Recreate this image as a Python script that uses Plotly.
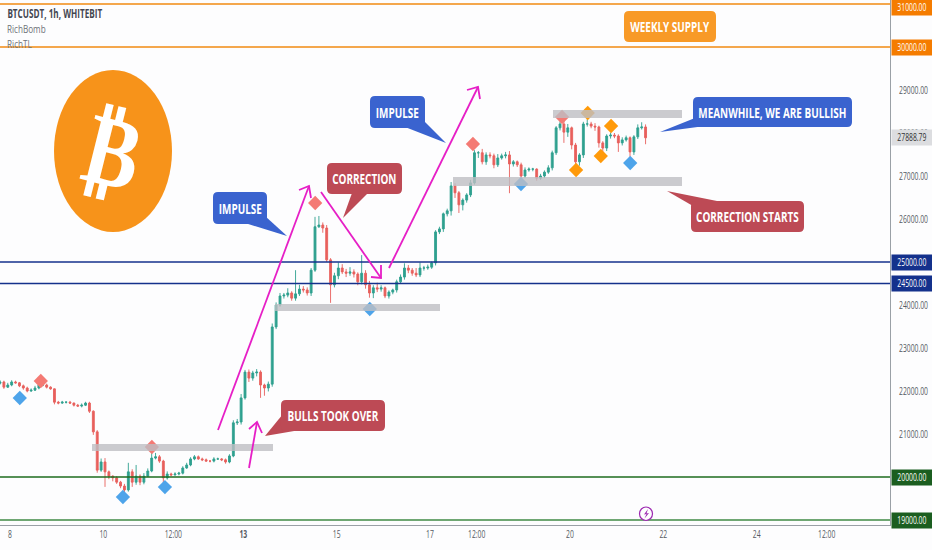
import plotly.graph_objects as go

# ---------- chart values ----------
START_DAY = 7.786
CANDLES_PER_DAY = 12
FIRST_OPEN = 22180
CLOSES = [
22210,22090,22140,22210,22190,22120,22070,22000,22020,22070,
22140,22140,22090,22050,21740,21720,21740,21740,21720,21670,
21650,21670,21720,21530,21050,20160,20350,20120,20020,19980,
19880,19790,19700,20120,19880,20020,19880,20020,20140,20440,
20470,20370,19980,20070,20050,20070,20090,20210,20280,20420,
20470,20420,20400,20370,20370,20420,20420,20400,20350,20490,
21260,21280,21840,22440,22300,22420,22440,22140,22070,22160,
23490,24000,24210,24230,24280,24160,24260,24370,24350,24280,
24810,25820,25860,25790,25050,24470,24680,24860,24770,24740,
24770,24720,24540,24740,24470,24280,24400,24370,24400,24210,
24300,24350,24540,24650,24860,24810,24740,24700,24860,24860,
24880,24980,25700,25770,26120,26190,26770,26610,26330,26440,
26560,26840,27540,27540,27330,27490,27470,27260,27420,27470,
27490,27280,27330,27260,27000,27140,27160,27160,26950,27000,
27090,27190,27540,28120,28210,28020,28120,27720,27330,27490,
28210,28210,28160,28140,27770,27650,27930,27950,27930,27770,
27840,27890,27560,27910,28120,28140,27888.79]
UPPER_WICKS = [
40,30,50,40,30,20,30,30,40,50,
110,40,30,20,10,30,30,20,30,10,
30,40,30,30,20,40,80,90,30,20,
40,30,50,210,60,260,40,70,60,190,
90,40,30,60,30,40,30,40,50,40,
40,30,30,30,20,40,30,20,30,40,
60,70,90,50,60,50,70,40,30,60,
80,60,70,50,110,40,550,100,70,60,
50,230,210,60,70,40,70,130,90,70,
110,60,40,420,70,90,60,120,60,30,
40,30,50,60,110,70,50,120,130,50,
60,30,40,50,30,50,90,60,40,40,
40,70,60,40,90,60,60,50,90,50,
70,90,40,30,50,60,40,30,20,50,
40,60,50,40,60,80,90,30,50,40,
50,110,50,70,30,40,40,60,50,40,
60,50,30,40,80,110,60]
LOWER_WICKS = [
30,40,20,30,20,30,40,30,20,20,
30,30,30,20,50,30,20,30,20,30,
20,30,20,40,70,60,40,350,70,80,
40,50,50,40,110,60,70,50,20,30,
30,40,120,40,30,20,30,30,20,30,
30,20,30,20,30,30,20,30,40,30,
30,50,60,40,90,60,80,300,180,80,
60,50,40,60,50,60,60,50,60,60,
70,40,30,110,50,420,60,80,50,90,
60,80,80,60,90,110,120,70,60,50,
60,50,60,40,60,70,60,50,50,60,
40,40,60,50,70,60,110,120,190,130,
60,50,40,120,60,70,60,80,50,40,
60,680,60,50,90,50,40,50,60,40,
50,40,60,50,60,250,110,100,140,90,
70,60,50,90,110,120,70,60,50,210,
60,40,110,70,50,40,150]

RED_DAYS = [8.66, 11.04, 14.54, 17.92, 19.83]
RED_PRICES = [22233, 20698, 26372, 27744, 28372]
BLUE_DAYS = [8.21, 10.42, 11.32, 15.71, 18.95, 21.29]
BLUE_PRICES = [21837, 19535, 19767, 23907, 26814, 27302]
ORANGE_DAYS = [20.13, 20.38, 20.66, 20.88]
ORANGE_PRICES = [27140, 28465, 27465, 28163]

TICK_DAYS = [8, 10, 11.5, 13, 15, 17, 18, 20, 22, 24, 25.5]
TICK_LABELS = ["8", "10", "12:00", "<b>13</b>", "15", "17", "12:00", "20", "22", "24", "12:00"]
PRICE_TICKS = [29000, 28000, 27000, 26000, 24000, 23000, 22000, 21000]
LEVELS = [31000, 30000, 25000, 24500, 20000, 19000]
LEVEL_COLORS = ["#f08a12", "#f08a12", "#14318c", "#14318c", "#1c6b1e", "#3f8a45"]
TAG_COLORS = ["#f57c00", "#f57c00", "#14318c", "#14318c", "#1b5e20", "#1b5e20"]
TAG_SHIFTS = [-3, 0, 0, 0, 0, 0]
LAST_PRICE = 27888.79

# ---------- frame ----------
W, H = 932, 550
PW, PH = 890, 525
DAY_RANGE = [7.786, 26.857]
PRICE_RANGE = [18884, 31093]
FONT = "Open Sans, sans-serif"


def fx(px):
    return px / PW


def fy(py):
    return 1 - py / PH


def poly(points, closed=True):
    s = "M " + " L ".join(f"{fx(a):.5f},{fy(b):.5f}" for a, b in points)
    return s + (" Z" if closed else "")


def round_rect(x0, y0, x1, y1, r=5):
    P = lambda a, b: f"{fx(a):.5f},{fy(b):.5f}"
    return (f"M {P(x0+r,y0)} L {P(x1-r,y0)} Q {P(x1,y0)} {P(x1,y0+r)} L {P(x1,y1-r)} "
            f"Q {P(x1,y1)} {P(x1-r,y1)} L {P(x0+r,y1)} Q {P(x0,y1)} {P(x0,y1-r)} "
            f"L {P(x0,y0+r)} Q {P(x0,y0)} {P(x0+r,y0)} Z")


shapes = []
annotations = []


def pshape(path, fill=None, line=None, width=0, layer="above"):
    shapes.append(dict(type="path", xref="paper", yref="paper", path=path, layer=layer,
                       fillcolor=fill or "rgba(0,0,0,0)",
                       line=dict(color=line or "rgba(0,0,0,0)", width=width)))


def label(px, py, text, size=14, color="white", xanchor="center", bold=True, shift=0):
    annotations.append(dict(xref="paper", yref="paper", x=fx(px), y=fy(py), text=f"<b>{text}</b>" if bold else text,
                            showarrow=False, xanchor=xanchor, yanchor="middle", xshift=shift,
                            font=dict(family=FONT, size=size, color=color)))


def callout(x0, y0, x1, y1, color, text, tail=None):
    if tail:
        pshape(poly(tail), fill=color)
    pshape(round_rect(x0, y0, x1, y1), fill=color)
    label((x0 + x1) / 2, (y0 + y1) / 2, text)


def arrow(p0, p1, w0, w1):
    pshape(poly([p0, p1], closed=False), line="#e61fc6", width=1.8)
    pshape(poly([w0, p1, w1], closed=False), line="#e61fc6", width=1.8)


# horizontal levels
for lvl, col in zip(LEVELS, LEVEL_COLORS):
    shapes.append(dict(type="line", xref="paper", yref="y", x0=0, x1=1, y0=lvl, y1=lvl,
                       line=dict(color=col, width=1.6), layer="above"))

# grey zones
for z in [(92, 444, 273, 451), (275, 304, 440, 311), (453, 177, 682, 186), (553, 110, 682, 118)]:
    pshape(poly([(z[0], z[1]), (z[2], z[1]), (z[2], z[3]), (z[0], z[3])]), fill="rgba(190,190,195,0.8)")

# bitcoin logo
shapes.append(dict(type="circle", xref="paper", yref="paper", x0=fx(54), x1=fx(172), y0=fy(70), y1=fy(232),
                   fillcolor="#f7931a", line=dict(width=0), layer="above"))
annotations.append(dict(xref="paper", yref="paper", x=fx(114), y=fy(151), text="<b>₿</b>", showarrow=False,
                        textangle=14, xanchor="center", yanchor="middle",
                        font=dict(family="DejaVu Sans", size=100, color="white")))

# arrows
arrow((249, 468), (257, 422), (249, 429), (262, 433))
arrow((218, 430), (309, 186), (299, 190), (311, 198))
arrow((321, 192), (381, 278), (371, 277), (381, 265))
arrow((389, 268), (478, 87), (467, 90), (480, 99))

# callouts
BLUE, RED, ORANGE = "#3a63cf", "#bd4a55", "#f89a27"
callout(624, 11, 716, 42, ORANGE, "WEEKLY SUPPLY")
callout(213, 192, 267, 224, BLUE, "IMPULSE", [(265, 216), (287, 236), (245, 223)])
callout(327, 163, 402, 194, RED, "CORRECTION", [(368, 193), (343, 218), (352, 193)])
callout(370, 96, 425, 128, BLUE, "IMPULSE", [(423, 120), (446, 143), (405, 127)])
callout(693, 97, 852, 127, BLUE, "MEANWHILE, WE ARE BULLISH", [(695, 118), (660, 132), (705, 126)])
callout(691, 201, 804, 232, RED, "CORRECTION STARTS", [(693, 206), (667, 191), (722, 202)])
callout(281, 400, 385, 431, RED, "BULLS TOOK OVER", [(283, 414), (265, 436), (300, 430)])

# bolt icon
shapes.append(dict(type="circle", xref="paper", yref="paper", x0=fx(639.5), x1=fx(652.5), y0=fy(507), y1=fy(520.5),
                   fillcolor="#fdfdfe", line=dict(color="#9c27b0", width=1.2), layer="above"))
pshape(poly([(648, 509), (644, 514.5), (646.5, 514), (644.5, 518.5), (649, 513), (646.5, 513.5)]), fill="#9c27b0")

# header
label(5, 14, "BTCUSDT, 1h, WHITEBIT", size=11.5, color="#434651", xanchor="left", shift=-19)
label(5, 29, "RichBomb", size=11.5, color="#6f7278", xanchor="left", bold=False, shift=-8)
label(5, 44, "RichTL", size=11.5, color="#6f7278", xanchor="left", bold=False, shift=-5)

# price tags
for lvl, col, sh in zip(LEVELS, TAG_COLORS, TAG_SHIFTS):
    annotations.append(dict(xref="paper", yref="y", x=fx(891), y=lvl, text=f"{lvl:.2f}", showarrow=False, yshift=sh,
                            xanchor="left", yanchor="middle", width=38, height=13, bgcolor=col, align="center",
                            font=dict(family=FONT, size=10, color="white")))
annotations.append(dict(xref="paper", yref="y", x=fx(891), y=LAST_PRICE, text=f"{LAST_PRICE:.2f}", showarrow=False,
                        xanchor="left", yanchor="middle", width=38, height=13, bgcolor="#dcdde0", align="center",
                        font=dict(family=FONT, size=10, color="#333333")))

# ---------- traces ----------
days = [START_DAY + i / CANDLES_PER_DAY for i in range(len(CLOSES))]
opens = [FIRST_OPEN] + CLOSES[:-1]
highs = [max(o, c) + u for o, c, u in zip(opens, CLOSES, UPPER_WICKS)]
lows = [min(o, c) - l for o, c, l in zip(opens, CLOSES, LOWER_WICKS)]

fig = go.Figure()
fig.add_trace(go.Candlestick(
    x=days, open=opens, high=highs, low=lows, close=CLOSES, whiskerwidth=0,
    increasing=dict(line=dict(color="#2fa08f", width=0.9), fillcolor="#2fa08f"),
    decreasing=dict(line=dict(color="#e8605c", width=0.9), fillcolor="#e8605c"),
    showlegend=False))
for dx, dy, col in [(RED_DAYS, RED_PRICES, "#f47a74"), (BLUE_DAYS, BLUE_PRICES, "#4ea4ea"),
                    (ORANGE_DAYS, ORANGE_PRICES, "#ff9a0a")]:
    fig.add_trace(go.Scatter(x=dx, y=dy, mode="markers", showlegend=False,
                             marker=dict(symbol="diamond", size=11, color=col, line=dict(width=0))))

fig.update_layout(
    width=W, height=H, autosize=False,
    margin=dict(l=0, r=W - PW, t=0, b=H - PH, autoexpand=False),
    paper_bgcolor="#fdfdfe", plot_bgcolor="#fdfdfe",
    shapes=shapes, annotations=annotations, showlegend=False,
    xaxis=dict(range=DAY_RANGE, tickmode="array", tickvals=TICK_DAYS, ticktext=TICK_LABELS, showgrid=False,
               zeroline=False, rangeslider=dict(visible=False), showline=True, linecolor="#9aa0a6", linewidth=1,
               ticks="", tickfont=dict(family=FONT, size=10, color="#555a62")),
    yaxis=dict(range=PRICE_RANGE, side="right", tickmode="array", tickvals=PRICE_TICKS,
               ticktext=[f"{p:.2f}" for p in PRICE_TICKS], showgrid=False, zeroline=False, showline=True,
               linecolor="#9aa0a6", linewidth=1, ticks="", ticklabelstandoff=6,
               tickfont=dict(family=FONT, size=10, color="#555a62")),
)

# The reference uses a condensed face; squeeze the real text horizontally about its anchor.
SQUEEZE_JS = """
document.body.style.margin='0';
function squeeze(){
  document.querySelectorAll('.annotation-text, .xtick text, .ytick text').forEach(function(t){
    if(t.dataset.sq) return;
    var s=t.textContent, f;
    if(!s) return;
    if(s.indexOf('\\u20bf')>=0) f=0.82;
    else if(/^[0-9.:]+$/.test(s)) f=0.68;
    else f=0.71;
    var ax=parseFloat(t.getAttribute('x'))||0, old=t.getAttribute('transform')||'';
    t.removeAttribute('clip-path');
    t.setAttribute('transform', old+' translate('+ax+',0) scale('+f+',1) translate('+(-ax)+',0)');
    t.dataset.sq='1';
  });
}
squeeze(); setTimeout(squeeze,50); setTimeout(squeeze,300);
"""
fig.write_html("out.html", config={"displayModeBar": False}, post_script=SQUEEZE_JS)
